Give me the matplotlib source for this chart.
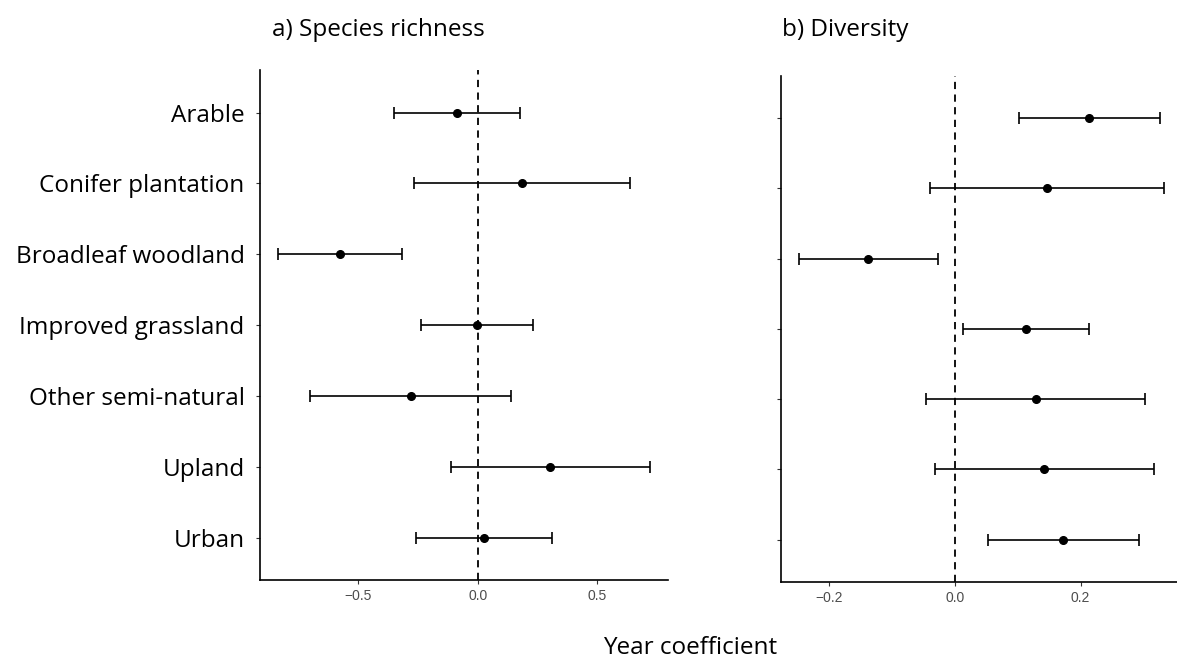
import numpy as np
import matplotlib.pyplot as plt

plt.rcParams['font.family'] = ['Open Sans', 'DejaVu Sans']

# Land classes, top to bottom
habitats = ['Arable', 'Conifer plantation', 'Broadleaf woodland',
            'Improved grassland', 'Other semi-natural', 'Upland', 'Urban']

# a) species richness: estimate and interval
rich_est = [-0.088, 0.186, -0.575, -0.004, -0.280, 0.303, 0.026]
rich_lo = [-0.350, -0.266, -0.833, -0.237, -0.702, -0.113, -0.259]
rich_hi = [0.177, 0.636, -0.316, 0.230, 0.139, 0.720, 0.310]

# b) diversity: estimate and interval
div_est = [0.213, 0.147, -0.138, 0.113, 0.129, 0.142, 0.172]
div_lo = [0.1015, -0.039, -0.2475, 0.013, -0.045, -0.031, 0.053]
div_hi = [0.326, 0.333, -0.027, 0.214, 0.303, 0.316, 0.293]

fig = plt.figure(figsize=(11.77, 6.61), dpi=100)
ax1 = fig.add_axes([0.2209, 0.1225, 0.3469, 0.7716])
ax2 = fig.add_axes([0.6636, 0.1200, 0.3400, 0.7650])

ypos = np.arange(len(habitats))[::-1] + 1


def forest(ax, est, lo, hi, xlim, xticks):
    est = np.array(est)
    err = [est - np.array(lo), np.array(hi) - est]
    ax.axvline(0, color='black', linestyle=(0, (4, 3)), linewidth=1.3, zorder=1)
    ax.errorbar(est, ypos, xerr=err, fmt='o', color='black', markersize=5.5,
                elinewidth=1.2, capsize=4, capthick=1.2, zorder=3)
    ax.set_xlim(*xlim)
    ax.set_ylim(0.4, 7.6)
    ax.set_xticks(xticks)
    ax.set_xticklabels(['\u2212' + f'{abs(t):.1f}' if t < 0 else f'{t:.1f}'
                        for t in xticks], family='Liberation Sans')
    ax.set_yticks(ypos)
    for side in ['top', 'right']:
        ax.spines[side].set_visible(False)
    for side in ['left', 'bottom']:
        ax.spines[side].set_linewidth(1.2)
    ax.tick_params(axis='both', colors='#333333', labelcolor='#4d4d4d',
                   length=3, width=0.8, labelsize=10)
    ax.tick_params(axis='y', labelsize=17.5, labelcolor='black', pad=8)


forest(ax1, rich_est, rich_lo, rich_hi, (-0.909, 0.796), [-0.5, 0.0, 0.5])
ax1.set_yticklabels(habitats)

forest(ax2, div_est, div_lo, div_hi, (-0.276, 0.36), [-0.2, 0.0, 0.2])
ax2.set_yticklabels([])

fig.text(0.2311, 0.955, 'a) Species richness', fontsize=17.5, va='center', ha='left')
fig.text(0.6644, 0.955, 'b) Diversity', fontsize=17.5, va='center', ha='left')
fig.text(0.586, 0.019, 'Year coefficient', fontsize=17.5, va='center', ha='center')

fig.savefig('out.png', dpi=100)
